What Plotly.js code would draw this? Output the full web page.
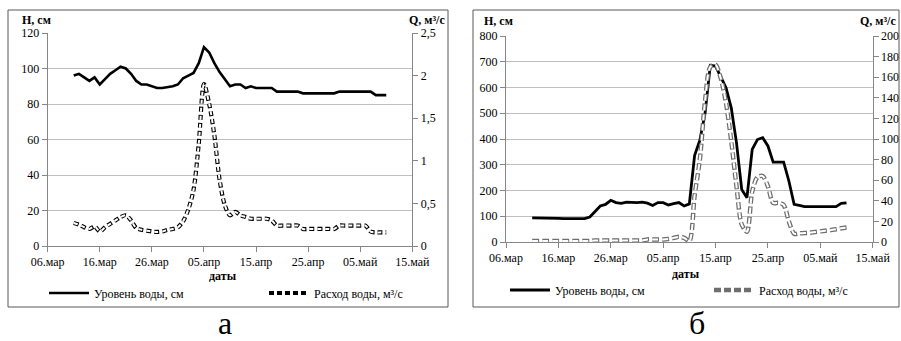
<!DOCTYPE html>
<html><head><meta charset="utf-8">
<script src="https://cdn.plot.ly/plotly-3.0.1.min.js"></script>
<style>html,body{margin:0;padding:0;background:#fff;overflow:hidden}#chart{width:901px;height:341px}</style>
</head><body><div id="chart"></div>
<script>
const dates = [
 '2015-03-11','2015-03-12','2015-03-13','2015-03-14','2015-03-15','2015-03-16','2015-03-17','2015-03-18','2015-03-19','2015-03-20',
 '2015-03-21','2015-03-22','2015-03-23','2015-03-24','2015-03-25','2015-03-26','2015-03-27','2015-03-28','2015-03-29','2015-03-30',
 '2015-03-31','2015-04-01','2015-04-02','2015-04-03','2015-04-04','2015-04-05','2015-04-06','2015-04-07','2015-04-08','2015-04-09',
 '2015-04-10','2015-04-11','2015-04-12','2015-04-13','2015-04-14','2015-04-15','2015-04-16','2015-04-17','2015-04-18','2015-04-19',
 '2015-04-20','2015-04-21','2015-04-22','2015-04-23','2015-04-24','2015-04-25','2015-04-26','2015-04-27','2015-04-28','2015-04-29',
 '2015-04-30','2015-05-01','2015-05-02','2015-05-03','2015-05-04','2015-05-05','2015-05-06','2015-05-07','2015-05-08','2015-05-09',
 '2015-05-10'];

// Chart "а": water level H (cm) and discharge Q (m3/s)
const levelA = [96,97,95,93,95,91,94,97,99,101,
 100,97,93,91,91,90,89,89,89.5,90,
 91,94.5,96,97.5,103,112,109,103,98,94,
 90,91,91,89,90,89,89,89,89,87,
 87,87,87,87,86,86,86,86,86,86,
 86,87,87,87,87,87,87,87,85,85,
 85];
const flowA = [0.27,0.25,0.22,0.20,0.23,0.17,0.22,0.26,0.30,0.34,
 0.36,0.30,0.21,0.19,0.18,0.17,0.165,0.17,0.19,0.20,
 0.22,0.29,0.43,0.66,1.2,1.9,1.67,1.3,0.78,0.48,
 0.36,0.40,0.36,0.34,0.32,0.32,0.32,0.32,0.30,0.24,
 0.24,0.24,0.24,0.24,0.20,0.20,0.20,0.20,0.20,0.20,
 0.20,0.24,0.24,0.24,0.24,0.24,0.24,0.17,0.16,0.16,
 0.16];

// Chart "б"
const levelB = [94,94,94,94,94,92,91,91,91,91,
 91,97,120,140,146,162,153,150,155,153,
 153,155,151,142,153,153,144,149,153,140,
 148,336,395,500,686,683,644,599,521,385,
 204,172,360,398,405,373,310,310,310,237,
 146,142,137,137,137,137,137,137,137,150,
 152];
const flowB = [1,1,1,1,1,1,1,1,1,1,
 1,1,1.5,1.5,1.5,1.5,1.5,1.5,1.5,1.5,
 1.5,1.5,2.5,2.5,2.5,2.5,3,4,5,4,
 1,45,80,137,170,172,159,135,98,54,
 17,10,49,63,64,54,38,38,36,20,
 8,8.4,8.7,9,9.7,10.3,11,11.6,12.3,13.3,
 14];

const xTickVals = ['2015-03-06','2015-03-16','2015-03-26','2015-04-05','2015-04-15','2015-04-25','2015-05-05','2015-05-15'];
const xTickText = ['06.мар','16.мар','26.мар','05.апр','15.апр','25.апр','05.май','15.май'];
const xRange = ['2015-03-06','2015-05-15'];
const seriesNames = ['Уровень воды, см','Расход воды, м³/с'];

const W = 901, H = 341;
const px = v => v / W;
const py = v => 1 - v / H;
const FONT = 'Liberation Serif';
const AX = '#868686';

function xAxis(domain, anchor){
  return {domain: domain, anchor: anchor, type:'date', range: xRange,
    tickmode:'array', tickvals: xTickVals, ticktext: xTickText,
    ticks:'outside', ticklen:5, tickcolor: AX, showline:true, linecolor: AX, linewidth:1,
    showgrid:false, zeroline:false, automargin:false, tickfont:{family:FONT,size:12,color:'#000'}};
}
function yLeft(domain, anchor, range, dtick){
  return {domain: domain, anchor: anchor, range: range, dtick: dtick, tick0:0,
    ticks:'outside', ticklen:5, tickcolor: AX, showline:true, linecolor: AX, linewidth:1,
    showgrid:true, gridcolor:'#bfbfbf', gridwidth:1, zeroline:false, automargin:false,
    tickfont:{family:FONT,size:12,color:'#000'}};
}
function yRight(overlay, anchor, range, dtick){
  return {overlaying: overlay, anchor: anchor, side:'right', range: range, dtick: dtick, tick0:0,
    ticks:'outside', ticklen:5, tickcolor: AX, showline:true, linecolor: AX, linewidth:1,
    showgrid:false, zeroline:false, automargin:false, tickfont:{family:FONT,size:12,color:'#000'}};
}

const traces = [
  {x: dates, y: levelA, xaxis:'x', yaxis:'y', type:'scatter', mode:'lines', name: seriesNames[0],
   line:{color:'#000', width:2.6}, legend:'legend'},
  {x: dates, y: flowA, xaxis:'x', yaxis:'y2', type:'scatter', mode:'lines', name: seriesNames[1],
   line:{color:'#000', width:4.2, dash:'5px,3px', shape:'spline', smoothing:0.8}, legend:'legend'},
  {x: dates, y: flowA, xaxis:'x', yaxis:'y2', type:'scatter', mode:'lines', showlegend:false,
   line:{color:'#fff', width:2.0, dash:'4px,4px', shape:'spline', smoothing:0.8}},
  {x: dates, y: levelB, xaxis:'x2', yaxis:'y3', type:'scatter', mode:'lines', name: seriesNames[0],
   line:{color:'#000', width:2.8}, legend:'legend2'},
  {x: dates, y: flowB, xaxis:'x2', yaxis:'y4', type:'scatter', mode:'lines', name: seriesNames[1],
   line:{color:'#6e6e6e', width:4.5, dash:'7px,3px', shape:'spline', smoothing:0.8}, legend:'legend2'},
  {x: dates, y: flowB, xaxis:'x2', yaxis:'y4', type:'scatter', mode:'lines', showlegend:false,
   line:{color:'#fff', width:2, dash:'6px,4px', shape:'spline', smoothing:0.8}}
];

const ann = (text, x, y, opts) => Object.assign({text: text, x: px(x), y: py(y), xref:'paper', yref:'paper',
  showarrow:false, font:{family:FONT, size:12, color:'#000'}}, opts || {});

const layout = {
  width: W, height: H, autosize:false, margin:{l:0,r:0,t:0,b:0,pad:0,autoexpand:false},
  paper_bgcolor:'#fff', plot_bgcolor:'#fff',
  separators:', ', hovermode:false,
  font:{family:FONT, size:12, color:'#000'},
  xaxis: xAxis([px(47.7), px(412.3)], 'y'),
  yaxis: yLeft([py(246), py(33)], 'x', [0,120], 20),
  yaxis2: yRight('y', 'x', [0,2.5], 0.5),
  xaxis2: xAxis([px(506), px(872.7)], 'y3'),
  yaxis3: yLeft([py(242), py(36)], 'x2', [0,800], 100),
  yaxis4: yRight('y3', 'x2', [0,200], 20),
  legend: {orientation:'h', x: px(44), y: py(293), xanchor:'left', yanchor:'middle',
    entrywidth:165, entrywidthmode:'pixels', itemwidth:40, bgcolor:'rgba(0,0,0,0)',
    font:{family:FONT,size:12,color:'#000'}},
  legend2: {orientation:'h', x: px(505), y: py(290), xanchor:'left', yanchor:'middle',
    entrywidth:149, entrywidthmode:'pixels', itemwidth:40, bgcolor:'rgba(0,0,0,0)',
    font:{family:FONT,size:12,color:'#000'}},
  shapes: [
    {type:'rect', xref:'paper', yref:'paper', x0: px(8), x1: px(448), y0: py(307), y1: py(10), line:{color:'#595959', width:1}},
    {type:'rect', xref:'paper', yref:'paper', x0: px(473), x1: px(899), y0: py(307), y1: py(10), line:{color:'#595959', width:1}}
  ],
  annotations: [
    ann('<b>H, см</b>', 20, 20, {xanchor:'left', yanchor:'middle'}),
    ann('<b>Q, м³/с</b>', 447, 20, {xanchor:'right', yanchor:'middle'}),
    ann('<b>даты</b>', 223, 276, {xanchor:'center', yanchor:'middle'}),
    ann('<b>H, см</b>', 482, 21, {xanchor:'left', yanchor:'middle'}),
    ann('<b>Q, м³/с</b>', 898, 21, {xanchor:'right', yanchor:'middle'}),
    ann('<b>даты</b>', 686, 274, {xanchor:'center', yanchor:'middle'}),
    ann('а', 225, 323, {xanchor:'center', yanchor:'middle', font:{family:FONT, size:32, color:'#000'}}),
    ann('б', 697, 323, {xanchor:'center', yanchor:'middle', font:{family:FONT, size:32, color:'#000'}})
  ]
};

Plotly.newPlot('chart', traces, layout, {staticPlot:true, displayModeBar:false});
</script></body></html>
